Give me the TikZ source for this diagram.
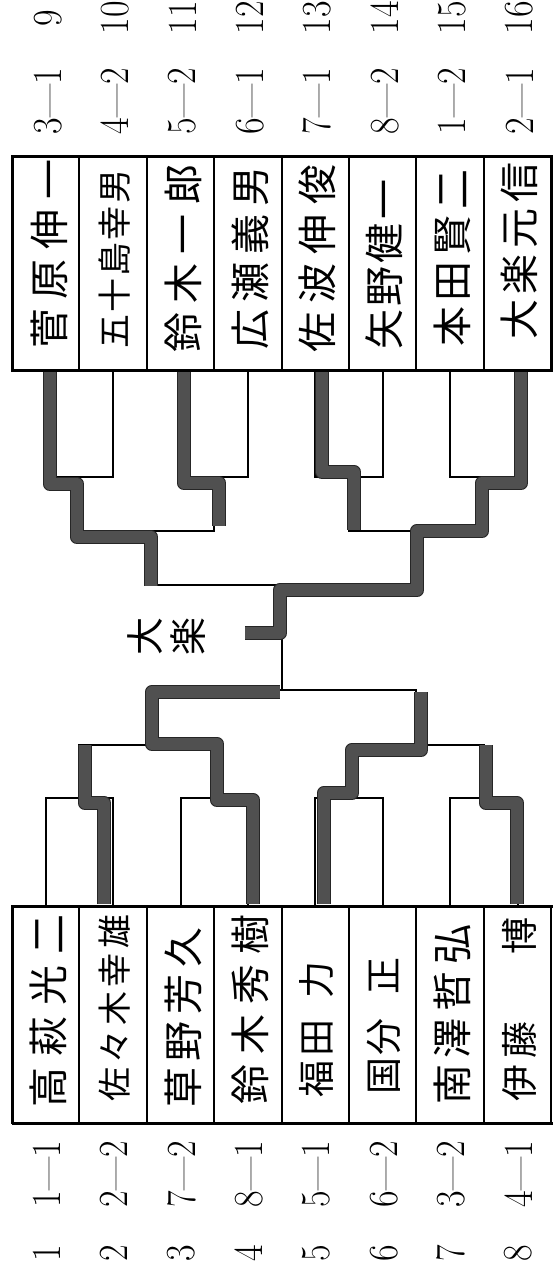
\documentclass[tikz,border=0pt]{standalone}
\usepackage{fontspec}
\usepackage{graphicx}
\newfontfamily\jp{Noto Sans CJK JP}
\definecolor{markgray}{HTML}{505050}
\tikzset{
  cell/.style={draw, line width=2pt, minimum width=67.4pt, minimum height=214pt, inner sep=0pt, outer sep=0pt},
  bcell/.style={cell, minimum height=217pt},
  bline/.style={line width=2pt, line join=miter},
  win/.style={draw=black!85, line width=1.4pt, double=markgray, double distance=11.5pt, line join=round},
  num/.style={rotate=90, inner sep=0pt, font=\fontsize{36}{36}\selectfont},
  nm/.style={rotate=90, anchor=west, inner sep=0pt, font=\jp\fontsize{40}{40}\selectfont},
  nms/.style={nm, font=\jp\fontsize{34}{34}\selectfont},
  nmt/.style={nm, font=\jp\fontsize{37}{37}\selectfont},
  champ/.style={rotate=90, inner sep=0pt, align=center, font=\jp\fontsize{38}{43}\selectfont}
}
\begin{document}
\begin{tikzpicture}[x=1pt,y=-1pt]
\useasboundingbox (0,0) rectangle (553,1271);
\fill[white] (0,0) rectangle (553,1271);

% ---- table cells
\foreach \i/\x in {1/45.7,2/113.1,3/180.5,4/247.9,5/315.3,6/382.7,7/450.1,8/517.5}{
  \node[cell] (t\i) at (\x,263) {};
  \node[bcell] (b\i) at (\x,1014.5) {};
}
\draw[line width=3pt] (t1.north west) rectangle (t8.south east);
\draw[line width=3pt] (b1.north west) -- (555,906);
\draw[line width=3pt] (b1.south west) -- (555,1123);
\draw[line width=3pt] (b1.north west) -- (b1.south west);

% ---- top seeds and scores
\foreach \i/\s/\scr in {1/9/3—1,2/10/4—2,3/11/5—2,4/12/6—1,5/13/7—1,6/14/8—2,7/15/1—2,8/16/2—1}{
  \node[num] (ts\i) at ([xshift=2pt]t\i.center |- 0,18) {\scalebox{1}[1.15]{\s}};
  \node[num] (tr\i) at ([xshift=2pt]t\i.center |- 0,101) {\scalebox{1}[1.15]{\scr}};
}
% ---- bottom seeds and scores
\foreach \i/\s/\scr in {1/1/1—1,2/2/2—2,3/3/7—2,4/4/8—1,5/5/5—1,6/6/6—2,7/7/3—2,8/8/4—1}{
  \node[num] (bs\i) at ([xshift=1pt]b\i.center |- 0,1253) {\scalebox{1}[1.15]{\s}};
  \node[num] (br\i) at ([xshift=1pt]b\i.center |- 0,1174) {\scalebox{1}[1.15]{\scr}};
}

% ---- top names
\node[nm]  (tn1) at (49,349) {\hbox to 189pt{菅\hfill 原\hfill 伸\hfill 一}};
\node[nms] (tn2) at (115,349) {\hbox to 179pt{五\hfill 十\hfill 島\hfill 幸\hfill 男}};
\node[nm]  (tn3) at (183,353) {\hbox to 188pt{鈴\hfill 木\hfill 一\hfill 郎}};
\node[nm]  (tn4) at (250,350) {\hbox to 183pt{広\hfill 瀬\hfill 義\hfill 男}};
\node[nm]  (tn5) at (317,353) {\hbox to 188pt{佐\hfill 波\hfill 伸\hfill 俊}};
\node[nm]  (tn6) at (384,350) {\hbox to 170pt{矢\hfill 野\hfill 健\hfill 一}};
\node[nm]  (tn7) at (452,347) {\hbox to 177pt{本\hfill 田\hfill 賢\hfill 二}};
\node[nm]  (tn8) at (519,340) {\hbox to 177pt{大\hfill 楽\hfill 元\hfill 信}};
% ---- bottom names
\node[nm]  (bn1) at (48,1108) {\hbox to 193pt{高\hfill 萩\hfill 光\hfill 二}};
\node[nms] (bn2) at (115,1102) {\hbox to 187pt{佐\hfill 々\hfill 木\hfill 幸\hfill 雄}};
\node[nm]  (bn3) at (183,1108) {\hbox to 180pt{草\hfill 野\hfill 芳\hfill 久}};
\node[nm]  (bn4) at (250,1105) {\hbox to 190pt{鈴\hfill 木\hfill 秀\hfill 樹}};
\node[nmt] (bn5) at (317,1098) {\hbox to 136pt{福\hskip 4pt 田\hfill 力}};
\node[nmt] (bn6) at (384,1095) {\hbox to 137pt{国\hskip 2pt 分\hfill 正}};
\node[nm]  (bn7) at (452,1105) {\hbox to 180pt{南\hfill 澤\hfill 哲\hfill 弘}};
\node[nmt] (bn8) at (519,1102) {\hbox to 184pt{伊\hskip 6pt 藤\hfill 博}};

% ---- bracket coordinates
\coordinate (T12) at (79.4,477);  \coordinate (T34) at (214.2,477);
\coordinate (T56) at (349,477);   \coordinate (T78) at (483.8,477);
\coordinate (T14) at (146.8,531); \coordinate (T58) at (416.4,531);
\coordinate (TF) at (281.6,585);
\coordinate (B12) at (79.4,798);  \coordinate (B34) at (214.2,798);
\coordinate (B56) at (349,798);   \coordinate (B78) at (483.8,798);
\coordinate (B14) at (146.8,745); \coordinate (B58) at (416.4,745);
\coordinate (BF) at (281.6,690);

% ---- thin bracket
\draw[bline] (t1.south) |- (T12) -| (t2.south);
\draw[bline] (t3.south) |- (T34) -| (t4.south);
\draw[bline] (t5.south) |- (T56) -| (t6.south);
\draw[bline] (t7.south) |- (T78) -| (t8.south);
\draw[bline] (T12) |- (T14) -| (T34);
\draw[bline] (T56) |- (T58) -| (T78);
\draw[bline] (T14) |- (TF) -| (T58);
\draw[bline] (b1.north) |- (B12) -| (b2.north);
\draw[bline] (b3.north) |- (B34) -| (b4.north);
\draw[bline] (b5.north) |- (B56) -| (b6.north);
\draw[bline] (b7.north) |- (B78) -| (b8.north);
\draw[bline] (B12) |- (B14) -| (B34);
\draw[bline] (B56) |- (B58) -| (B78);
\draw[bline] (B14) |- (BF) -| (B58);
\draw[bline] (TF) -- (BF);

% ---- winners' highlights
\draw[win] (50,372) -- (50,484) -- (77,484) -- (77,537) -- (151,537) -- (151,586);
\draw[win] (184,372) -- (184,483) -- (219,483) -- (219,526);
\draw[win] (322,372) -- (322,472) -- (354,472) -- (354,530);
\draw[win] (521,372) -- (521,483) -- (482,483) -- (482,531) -- (417,531) -- (417,590) -- (280,590) -- (280,633) -- (245,633);
\draw[win] (253,904) -- (253,800) -- (217,800) -- (217,744) -- (152,744) -- (152,692) -- (280,692);
\draw[win] (104,904) -- (104,803) -- (85,803) -- (85,745);
\draw[win] (324,904) -- (324,793) -- (352,793) -- (352,750) -- (421,750) -- (421,692);
\draw[win] (517,904) -- (517,803) -- (486,803) -- (486,745);

% ---- champion label
\node[champ] (champ) at (167,636) {大\\楽};
\end{tikzpicture}
\end{document}
